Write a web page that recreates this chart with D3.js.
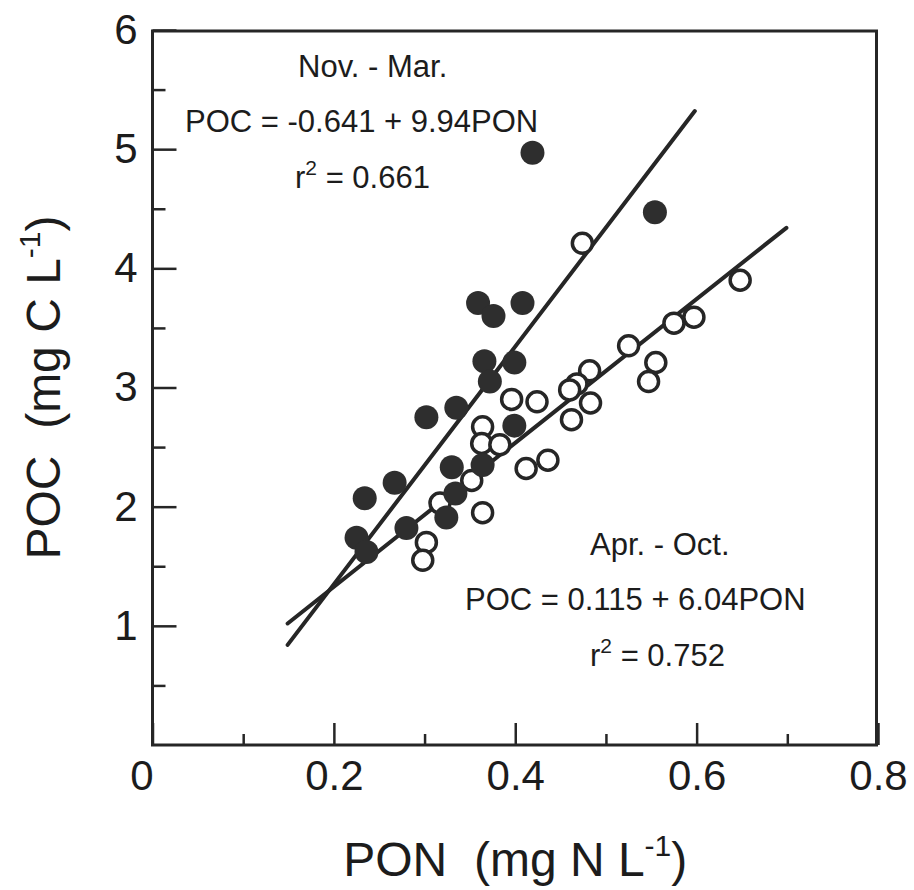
<!DOCTYPE html>
<html>
<head>
<meta charset="utf-8">
<script src="https://cdn.jsdelivr.net/npm/d3@7"></script>
<style>
  body { margin: 0; background: #fff; }
  text { font-family: "Liberation Sans", Arial, sans-serif; fill: #1c1c1c; white-space: pre; }
</style>
</head>
<body>
<div id="chart"></div>
<script>
// Data: PON (mg N/L) vs POC (mg C/L)
var novMarPON = [0.419, 0.554, 0.359, 0.376, 0.408, 0.366, 0.399, 0.372, 0.335, 0.302,
                 0.399, 0.330, 0.364, 0.334, 0.324, 0.234, 0.267, 0.225, 0.236, 0.280];
var novMarPOC = [4.97, 4.47, 3.71, 3.60, 3.71, 3.22, 3.21, 3.05, 2.83, 2.75,
                 2.68, 2.33, 2.35, 2.11, 1.91, 2.07, 2.20, 1.74, 1.62, 1.82];

var aprOctPON = [0.474, 0.648, 0.597, 0.575, 0.525, 0.555, 0.547, 0.482, 0.468, 0.460,
                 0.483, 0.462, 0.396, 0.424, 0.364, 0.363, 0.383, 0.412, 0.436, 0.352,
                 0.317, 0.364, 0.302, 0.298];
var aprOctPOC = [4.21, 3.90, 3.59, 3.54, 3.35, 3.21, 3.05, 3.14, 3.03, 2.98,
                 2.87, 2.73, 2.90, 2.88, 2.67, 2.53, 2.52, 2.32, 2.39, 2.22,
                 2.03, 1.95, 1.70, 1.55];

// regression lines, end points as drawn
var novMarLine = [[0.149, 0.84], [0.598, 5.32]];
var aprOctLine = [[0.149, 1.02], [0.699, 4.34]];

var xMajor = [0, 0.2, 0.4, 0.6, 0.8], xMinor = [0.1, 0.3, 0.5, 0.7];
var yMajor = [1, 2, 3, 4, 5, 6], yMinor = [0.5, 1.5, 2.5, 3.5, 4.5, 5.5];

var novMarText = ["Nov. - Mar.", "POC = -0.641 + 9.94PON", "0.661"];
var aprOctText = ["Apr. - Oct.", "POC = 0.115 + 6.04PON", "0.752"];

var chartWidth = 914, chartHeight = 890;
var plotLeft = 152.5, plotRight = 878, plotTop = 30, plotBottom = 745;

var x = d3.scaleLinear().domain([0, 0.8]).range([plotLeft, plotRight]);
var y = d3.scaleLinear().domain([0, 6]).range([plotBottom, plotTop]);

var svg = d3.select("#chart").append("svg")
    .attr("width", chartWidth).attr("height", chartHeight);

var ink = "#262626";

// axes: inward ticks, labels outside
var gx = svg.append("g").attr("transform", "translate(0," + plotBottom + ")")
    .call(d3.axisBottom(x).tickValues(xMajor).tickSize(-22).tickPadding(20)
        .tickFormat(d => d === 0 ? "0" : d3.format(".1f")(d)));
gx.append("g").call(d3.axisBottom(x).tickValues(xMinor).tickSize(-11).tickFormat(""));

var gy = svg.append("g").attr("transform", "translate(" + plotLeft + ",0)")
    .call(d3.axisLeft(y).tickValues(yMajor).tickSize(-24).tickPadding(15).tickFormat(d3.format("d")));
gy.append("g").call(d3.axisLeft(y).tickValues(yMinor).tickSize(-13).tickFormat(""));

svg.selectAll(".domain").remove();
svg.selectAll(".tick line").attr("stroke", ink).attr("stroke-width", 2.5);
gx.selectAll(".tick text").style("font-size", "42px").attr("fill", "#1c1c1c")
    .attr("dy", "0.6em")
    .attr("dx", d => d === 0 ? -11 : 0);
gy.selectAll(".tick text").style("font-size", "42px").attr("fill", "#1c1c1c");

// frame
svg.append("rect")
    .attr("x", plotLeft).attr("y", plotTop + 1)
    .attr("width", plotRight - 1.5 - plotLeft).attr("height", plotBottom - plotTop - 1)
    .attr("fill", "none").attr("stroke", ink).attr("stroke-width", 3);

// regression lines
var line = d3.line().x(d => x(d[0])).y(d => y(d[1]));
[novMarLine, aprOctLine].forEach(l => {
    svg.append("path").datum(l)
        .attr("d", line)
        .attr("fill", "none").attr("stroke", ink)
        .attr("stroke-width", 4).attr("stroke-linecap", "round");
});

// points
var aprOct = aprOctPON.map((d, i) => [d, aprOctPOC[i]]);
var novMar = novMarPON.map((d, i) => [d, novMarPOC[i]]);

svg.append("g").selectAll("circle").data(aprOct).enter().append("circle")
    .attr("cx", d => x(d[0])).attr("cy", d => y(d[1])).attr("r", 10)
    .attr("fill", "#fff").attr("stroke", ink).attr("stroke-width", 3.5);

svg.append("g").selectAll("circle").data(novMar).enter().append("circle")
    .attr("cx", d => x(d[0])).attr("cy", d => y(d[1])).attr("r", 12)
    .attr("fill", "#2e2e2e");

// annotations
function block(lines, x0, x1, x2, y0) {
    svg.append("text").attr("x", x0).attr("y", y0).style("font-size", "31px").text(lines[0]);
    svg.append("text").attr("x", x1).attr("y", y0 + 55).style("font-size", "31px").text(lines[1]);
    var r = svg.append("text").attr("x", x2).attr("y", y0 + 111).style("font-size", "31px");
    r.append("tspan").text("r");
    r.append("tspan").attr("dy", -13).style("font-size", "21px").text("2");
    r.append("tspan").attr("dy", 13).text(" = " + lines[2]);
}
block(novMarText, 298, 185, 295, 77);
block(aprOctText, 590, 465, 590, 555);

// axis titles
var xt = svg.append("text").attr("x", (plotLeft + plotRight) / 2).attr("y", 876)
    .attr("text-anchor", "middle").style("font-size", "48px");
xt.append("tspan").text("PON  (mg N L");
xt.append("tspan").attr("dy", -20).style("font-size", "30px").text("-1");
xt.append("tspan").attr("dy", 20).text(")");

var yt = svg.append("text")
    .attr("transform", "translate(60," + ((plotTop + plotBottom) / 2) + ") rotate(-90)")
    .attr("text-anchor", "middle").style("font-size", "48px");
yt.append("tspan").text("POC  (mg C L");
yt.append("tspan").attr("dy", -20).style("font-size", "30px").text("-1");
yt.append("tspan").attr("dy", 20).text(")");
</script>
</body>
</html>
